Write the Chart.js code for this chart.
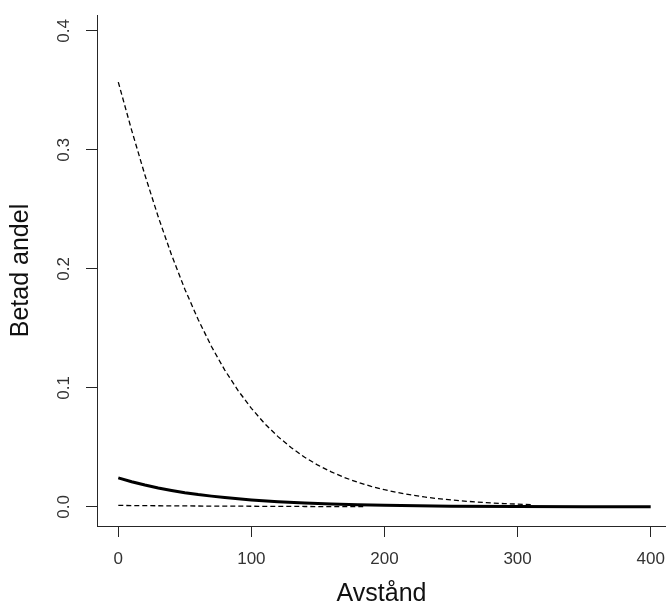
<!DOCTYPE html>
<html>
<head>
<meta charset="utf-8">
<script src="https://cdn.jsdelivr.net/npm/chart.js@4/dist/chart.umd.min.js"></script>
<style>
  html, body { margin: 0; padding: 0; background: #fff; overflow: hidden; }
  #wrap { width: 666px; height: 610px; }
</style>
</head>
<body>
<div id="wrap"><canvas id="c" width="666" height="610"></canvas></div>
<script>
// Distance values (x) for each curve
const distFit   = [0, 10, 20, 30, 40, 50, 60, 70, 80, 90, 100, 120, 140, 160, 180, 200, 250, 300, 350, 400];
const distUpper = [0, 10, 20, 30, 40, 50, 60, 70, 80, 90, 100, 110, 120, 130, 140, 150, 160, 170, 180, 190, 200, 210, 220, 230, 240, 250, 260, 270, 280, 290, 300, 310];
const distLower = [0, 20, 40, 60, 80, 100, 120, 140, 160, 184];

// Estimated grazed share along distance, with upper and lower bounds
const shareFit   = [0.0244, 0.0212, 0.0184, 0.0160, 0.0139, 0.0120, 0.0104, 0.0091, 0.0079, 0.0068, 0.0059, 0.0044, 0.0033, 0.0025, 0.0019, 0.0014, 0.0007, 0.0003, 0.00016, 0.00008];
const shareUpper = [0.357, 0.3167, 0.2789, 0.2438, 0.2118, 0.1830, 0.1575, 0.1348, 0.1150, 0.0978, 0.0829, 0.0700, 0.0591, 0.0498, 0.0418, 0.0351, 0.0295, 0.0247, 0.0207, 0.0173, 0.0145, 0.0121, 0.0101, 0.0084, 0.0070, 0.0059, 0.0049, 0.0041, 0.0034, 0.0028, 0.0024, 0.0020];
const shareLower = [0.0013, 0.0011, 0.0009, 0.0008, 0.0007, 0.0006, 0.0005, 0.0004, 0.0003, 0.0003];

// Axis ticks
const xTicks = [0, 100, 200, 300, 400];
const yTicks = [0.0, 0.1, 0.2, 0.3, 0.4];

const pts = (xs, ys) => xs.map((x, i) => ({ x: x, y: ys[i] }));

const axisColor = '#262626';
const tickFont = { family: "'Liberation Sans', Arial, sans-serif", size: 17 };
const titleFont = { family: "'Liberation Sans', Arial, sans-serif", size: 25, lineHeight: 1 };

new Chart(document.getElementById('c'), {
  type: 'line',
  data: {
    datasets: [
      {
        data: pts(distUpper, shareUpper),
        borderColor: '#000',
        borderWidth: 1.3,
        borderDash: [5, 3],
        pointRadius: 0,
        tension: 0,
        fill: false
      },
      {
        data: pts(distLower, shareLower),
        borderColor: '#000',
        borderWidth: 1.3,
        borderDash: [5, 3],
        pointRadius: 0,
        tension: 0,
        fill: false
      },
      {
        data: pts(distFit, shareFit),
        borderColor: '#000',
        borderWidth: 3,
        pointRadius: 0,
        tension: 0,
        fill: false
      }
    ]
  },
  options: {
    responsive: false,
    animation: false,
    devicePixelRatio: 1,
    layout: { padding: { top: 15, left: 0, right: 0, bottom: 0 } },
    plugins: { legend: { display: false }, tooltip: { enabled: false } },
    scales: {
      x: {
        type: 'linear',
        min: -16,
        max: 411.5,
        afterBuildTicks: (s) => { s.ticks = xTicks.map(v => ({ value: v })); },
        afterFit: (s) => { s.height = 84; s.paddingLeft = 0; s.paddingRight = 0; },
        grid: { display: true, drawOnChartArea: false, drawTicks: true, tickLength: 11, color: axisColor, lineWidth: 1 },
        border: { display: true, color: axisColor, width: 1 },
        ticks: {
          font: tickFont,
          color: '#333',
          padding: 12,
          maxRotation: 0,
          minRotation: 0,
          callback: (v) => String(v)
        },
        title: {
          display: true,
          text: 'Avstånd',
          font: titleFont,
          color: '#111',
          padding: { top: 0, bottom: 3 }
        }
      },
      y: {
        type: 'linear',
        min: -0.016,
        max: 0.4134,
        afterBuildTicks: (s) => { s.ticks = yTicks.map(v => ({ value: v })); },
        afterFit: (s) => { s.width = 97; s.paddingTop = 0; s.paddingBottom = 0; },
        grid: { display: true, drawOnChartArea: false, drawTicks: true, tickLength: 11, color: axisColor, lineWidth: 1 },
        border: { display: true, color: axisColor, width: 1 },
        ticks: {
          font: tickFont,
          color: '#333',
          padding: 10,
          minRotation: 90,
          maxRotation: 90,
          crossAlign: 'center',
          callback: (v) => Number(v).toFixed(1)
        },
        title: {
          display: true,
          text: 'Betad andel',
          font: titleFont,
          color: '#111',
          padding: { top: 9, bottom: 0 }
        }
      }
    }
  }
});
</script>
</body>
</html>
